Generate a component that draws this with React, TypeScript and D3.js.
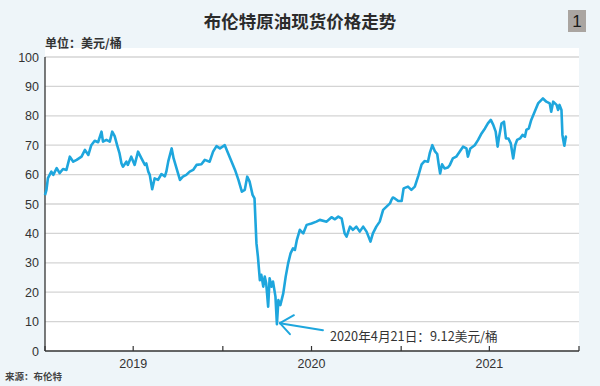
import * as d3 from 'd3'

// 布伦特原油现货价格 (美元/桶)
const dates = [
  '2019-01-01', '2019-01-04', '2019-01-07', '2019-01-14', '2019-01-18', '2019-01-25', '2019-01-31',
  '2019-02-07', '2019-02-14', '2019-02-21', '2019-02-28', '2019-03-07', '2019-03-17', '2019-03-24',
  '2019-03-31', '2019-04-06', '2019-04-13', '2019-04-20', '2019-04-27', '2019-04-30', '2019-05-07',
  '2019-05-14', '2019-05-19', '2019-05-24', '2019-05-29', '2019-06-03', '2019-06-07', '2019-06-10',
  '2019-06-17', '2019-06-20', '2019-06-27', '2019-07-04', '2019-07-11', '2019-07-18', '2019-07-25',
  '2019-07-28', '2019-08-01', '2019-08-04', '2019-08-09', '2019-08-14', '2019-08-21', '2019-08-28',
  '2019-09-04', '2019-09-07', '2019-09-11', '2019-09-18', '2019-09-22', '2019-09-28', '2019-10-05',
  '2019-10-11', '2019-10-18', '2019-10-25', '2019-11-01', '2019-11-08', '2019-11-18', '2019-11-25',
  '2019-12-05', '2019-12-12', '2019-12-19', '2019-12-26',
  '2020-01-05', '2020-01-12', '2020-01-19', '2020-01-26', '2020-02-02', '2020-02-09', '2020-02-15',
  '2020-02-20', '2020-02-25', '2020-03-02', '2020-03-06', '2020-03-10', '2020-03-13', '2020-03-17',
  '2020-03-20', '2020-03-24', '2020-03-27', '2020-03-30', '2020-04-03', '2020-04-06', '2020-04-10',
  '2020-04-13', '2020-04-18', '2020-04-21', '2020-04-24', '2020-04-28', '2020-05-04', '2020-05-09',
  '2020-05-14', '2020-05-19', '2020-05-24', '2020-05-28', '2020-06-01', '2020-06-07', '2020-06-14',
  '2020-06-21', '2020-07-01', '2020-07-11', '2020-07-18', '2020-08-01', '2020-08-11', '2020-08-18',
  '2020-08-25', '2020-09-01', '2020-09-07', '2020-09-11', '2020-09-18', '2020-09-24', '2020-10-01',
  '2020-10-08', '2020-10-15', '2020-10-22', '2020-10-30', '2020-11-04', '2020-11-11', '2020-11-18',
  '2020-11-25', '2020-12-02', '2020-12-09', '2020-12-12', '2020-12-15', '2020-12-19', '2020-12-26',
  '2021-01-02', '2021-01-06', '2021-01-15', '2021-01-22', '2021-01-29', '2021-02-05', '2021-02-12',
  '2021-02-18', '2021-02-25', '2021-03-01', '2021-03-06', '2021-03-11', '2021-03-16', '2021-03-19',
  '2021-03-22', '2021-03-26', '2021-03-31', '2021-04-07', '2021-04-11', '2021-04-17', '2021-04-24',
  '2021-05-01', '2021-05-08', '2021-05-15', '2021-05-18', '2021-05-23', '2021-06-01', '2021-06-08',
  '2021-06-15', '2021-06-22', '2021-06-28', '2021-07-04', '2021-07-09', '2021-07-14', '2021-07-18',
  '2021-07-21', '2021-07-26', '2021-07-31', '2021-08-04', '2021-08-09', '2021-08-14', '2021-08-19',
  '2021-08-23', '2021-08-27', '2021-09-02', '2021-09-07', '2021-09-12', '2021-09-15', '2021-09-20',
  '2021-09-25', '2021-10-02', '2021-10-09', '2021-10-16', '2021-10-19', '2021-10-26', '2021-11-02',
  '2021-11-05', '2021-11-09', '2021-11-16', '2021-11-19', '2021-11-22', '2021-11-26', '2021-11-28',
  '2021-12-01', '2021-12-02', '2021-12-05', '2021-12-07'
]

const prices = [
  53, 54.8, 58.8, 61, 59.9, 62.2, 60.5,
  61.9, 61.6, 66.1, 64.4, 65, 66.1, 68.4,
  66.7, 70, 71.5, 71, 74.6, 71.2, 71.8,
  71.2, 74.6, 73.1, 70, 67.2, 63.8, 62.7,
  64.4, 63.3, 66.1, 63.3, 67.8, 65.5, 63.3,
  63.8, 61, 59.9, 55, 58.7, 58.2, 60.2,
  59.4, 61, 64.5, 68.9, 65.5, 62.1, 58.2,
  59.3, 59.9, 61, 61.6, 63.3, 63.5, 65,
  64.4, 67.8, 69.7, 68.9,
  70, 67.2, 64.4, 61.6, 58.2, 54.2, 54.8,
  59.3, 57.6, 53.1, 51.9, 36.6, 32.1, 24.1,
  25.9, 21.9, 25.3, 23, 15.1, 24.7, 21.9,
  23.6, 18.5, 9.12, 17.3, 15.6, 19.6, 25.3,
  29.8, 33.2, 34.9, 34.4, 37.8, 41.2, 40,
  42.9, 43.4, 44, 44.6, 44, 45.5, 44.8,
  45.7, 45, 40, 38.9, 42.3, 41.2, 42.3,
  40.6, 42.3, 40.6, 37.2, 40, 42.3, 44,
  48, 49.1, 50.2, 51.4, 52.2, 51.9, 51,
  51, 55.3, 55.9, 54.8, 55.9, 59.5, 63.5,
  64.6, 64.4, 67.5, 70, 68, 67, 63.5,
  60.4, 63.5, 62.1, 62.4, 63.3, 65.5, 66.1,
  67.8, 69.5, 68.9, 66.1, 68.9, 70, 71.8,
  74, 75.7, 77.4, 78.6, 76.9, 74.6, 69.5,
  72.9, 77.4, 78, 72.3, 72.3, 70.6, 65.5,
  70, 71.8, 72.3, 73.5, 72.9, 75.2, 75.7,
  78.6, 81.4, 84.2, 85.4, 85.9, 84.8, 84.2,
  81.4, 84.8, 83.7, 82, 83.7, 82, 73.5,
  70.6, 69.8, 72.9, 73.1
]

const yTicks = [0, 10, 20, 30, 40, 50, 60, 70, 80, 90, 100]
const xTickDates = ['2019-01-01', '2019-07-01', '2020-01-01', '2020-07-01', '2021-01-01', '2021-07-01', '2022-01-01']
const yearLabels = ['2019', '2020', '2021']
const lowDate = '2020-04-21'
const lowLabel = '2020年4月21日：9.12美元/桶'

const parse = d3.timeParse('%Y-%m-%d')
const data = dates.map((d, i) => ({ date: parse(d) as Date, price: prices[i] }))

const cjk = '"Noto Sans CJK SC", "Noto Sans", sans-serif'
const latin = '"Liberation Sans", Arial, sans-serif'

const App = () => {
  const x = d3.scaleTime()
    .domain([parse('2019-01-01') as Date, parse('2022-01-01') as Date])
    .range([45, 579])
  const y = d3.scaleLinear().domain([0, 100]).range([351, 57])

  const line = d3.line<{ date: Date; price: number }>()
    .x(d => x(d.date))
    .y(d => y(d.price))

  const lowX = x(parse(lowDate) as Date)
  const lowY = y(prices[dates.indexOf(lowDate)])
  const tipX = lowX + 3
  const tipY = lowY - 1

  return (
    <svg width={600} height={386} style={{ position: 'absolute', left: 0, top: 0, background: '#eef5f9' }}>
      {/* PLOT BACKGROUND */}
      <rect x={45} y={48} width={534} height={303} fill='#ffffff' />

      {/* TITLE */}
      <text x={300} y={28} textAnchor='middle' fontFamily={cjk} fontWeight='bold' fontSize={17.5} fill='#2b2b2b'>
        布伦特原油现货价格走势
      </text>
      <rect x={568} y={10} width={18} height={22} fill='#aaa5a1' />
      <text x={577} y={27} textAnchor='middle' fontFamily={latin} fontSize={17} fill='#1a1a1a'>1</text>

      <text x={45} y={48} fontFamily={cjk} fontWeight='bold' fontSize={12} fill='#333'>单位：美元/桶</text>

      {/* GRIDLINES + Y LABELS */}
      {yTicks.map(t => (
        <g key={t}>
          {t > 0 && <line x1={45} x2={579} y1={y(t)} y2={y(t)} stroke='#d4d4d4' strokeWidth={1.3} />}
          <text x={39} y={y(t) + 4.5} textAnchor='end' fontFamily={latin} fontSize={12.5} fill='#333'>{t}</text>
        </g>
      ))}

      {/* AXES */}
      <line x1={45} x2={45} y1={y(100)} y2={y(0)} stroke='#333' strokeWidth={1.3} />
      <line x1={45} x2={579} y1={y(0)} y2={y(0)} stroke='#333' strokeWidth={1.3} />
      {xTickDates.map(d => (
        <line key={d} x1={x(parse(d) as Date)} x2={x(parse(d) as Date)} y1={y(0)} y2={y(0) - 5} stroke='#333' strokeWidth={1.2} />
      ))}
      {yearLabels.map(yr => (
        <text key={yr} x={x(parse(yr + '-07-01') as Date)} y={368} textAnchor='middle' fontFamily={latin} fontSize={12.5} fill='#333'>{yr}</text>
      ))}

      {/* PRICE LINE */}
      <path d={line(data) || ''} fill='none' stroke='#1ea6dd' strokeWidth={2.6} strokeLinejoin='round' />

      {/* ANNOTATION */}
      <g stroke='#1ea6dd' strokeWidth={2} fill='none' strokeLinecap='round'>
        <line x1={tipX} y1={tipY} x2={tipX + 43} y2={tipY + 7} />
        <line x1={tipX} y1={tipY} x2={tipX + 14} y2={tipY - 8} />
        <line x1={tipX} y1={tipY} x2={tipX + 10} y2={tipY + 11} />
      </g>
      <text x={330} y={341} fontFamily={cjk} fontSize={12.7} fill='#333'>{lowLabel}</text>

      <text x={5} y={380} fontFamily={cjk} fontWeight='bold' fontSize={9.5} fill='#444'>来源：布伦特</text>
    </svg>
  )
}

export default App
